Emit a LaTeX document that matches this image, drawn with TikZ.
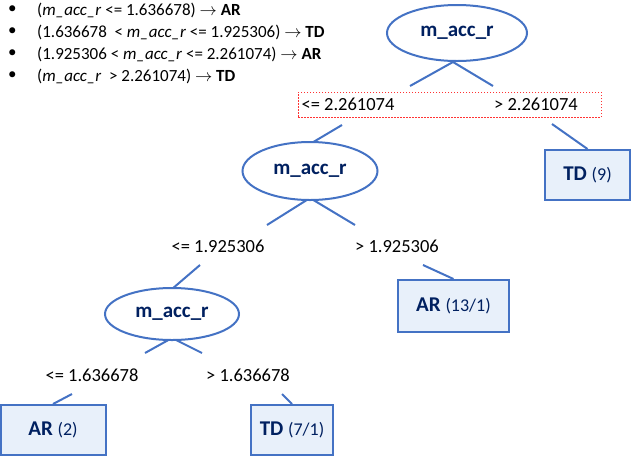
\documentclass[tikz,border=0pt]{standalone}
\usepackage{fontspec}
\setmainfont{Carlito}
\usetikzlibrary{shapes.geometric}
\begin{document}
\begin{tikzpicture}[x=1pt,y=-1pt,
  edge/.style={draw=blueline,line width=2pt},
  ell/.style={ellipse,draw=blueline,line width=2pt,fill=white,font=\fontsize{21}{24}\selectfont\bfseries,text=navytxt,inner sep=0pt},
  leaf/.style={rectangle,draw=blueline,line width=2pt,fill=leaffill,font=\fontsize{21}{24}\selectfont,text=navytxt,inner sep=0pt},
  lab/.style={font=\fontsize{18.5}{20}\selectfont,inner sep=0pt},
  bul/.style={font=\fontsize{17}{19}\selectfont,anchor=west,inner sep=0pt}]
\definecolor{blueline}{RGB}{68,114,196}
\definecolor{navytxt}{RGB}{0,32,96}
\definecolor{leaffill}{RGB}{232,240,250}
\useasboundingbox (0,0) rectangle (640,456);
% bullets
\foreach \yy/\t [count=\i] in {
  10/{(\textit{m\_acc\_r} <= 1.636678) $\rightarrow$ \textbf{AR}},
  32/{(1.636678 \ < \textit{m\_acc\_r} <= 1.925306) $\rightarrow$ \textbf{TD}},
  54/{(1.925306 < \textit{m\_acc\_r} <= 2.261074) $\rightarrow$ \textbf{AR}},
  76/{(\textit{m\_acc\_r} \ > 2.261074) $\rightarrow$ \textbf{TD}}}{
  \node[bul] (b\i) at (8,\yy) {\textbullet};
  \node[bul] (t\i) at (37,\yy) {\t};
}
% split 1
\node[draw=red!80,dash pattern=on 1.5pt off 1.5pt,line width=0.7pt,minimum width=303pt,minimum height=25pt] (rb) at (449.5,104.5) {};
\node[lab] (l1) at (348,104.5) {<= 2.261074};
\node[lab] (r1) at (536,104.5) {> 2.261074};
\coordinate (a1) at (453,62);
\coordinate (a1l) at (410,86);
\coordinate (a1r) at (493,86);
\draw[edge] (a1) -- (a1l) (a1) -- (a1r);
\node[ell,minimum width=140pt,minimum height=56pt] (e1) at (457,33) {m\_acc\_r};
\node[leaf,minimum width=85pt,minimum height=50pt] (td9) at (587.5,175) {\textbf{TD} {\fontsize{18}{20}\selectfont(9)}};
\coordinate (c1) at (552,124);
\draw[edge] (c1) -- (td9.north);
% split 2
\coordinate (c2) at (342,125);
\draw[edge] (c2) -- (310,144);
\node[lab] (l2) at (218,246) {<= 1.925306};
\node[lab] (r2) at (397,246) {> 1.925306};
\coordinate (a2) at (310,198);
\coordinate (a2l) at (267,225);
\coordinate (a2r) at (355,225);
\draw[edge] (a2) -- (a2l) (a2) -- (a2r);
\node[ell,minimum width=135pt,minimum height=58pt] (e2) at (310,171) {m\_acc\_r};
\node[leaf,minimum width=111pt,minimum height=52pt] (ar13) at (453.5,306) {\textbf{AR} {\fontsize{18}{20}\selectfont(13/1)}};
\coordinate (c3) at (423,265);
\draw[edge] (c3) -- (ar13.north);
% split 3
\coordinate (c4) at (200,265);
\coordinate (c4e) at (172,289);
\draw[edge] (c4) -- (c4e);
\node[lab] (l3) at (92,375) {<= 1.636678};
\node[lab] (r3) at (248,375) {> 1.636678};
\coordinate (a3) at (172,338);
\coordinate (a3l) at (145,353);
\coordinate (a3r) at (202,353);
\draw[edge] (a3) -- (a3l) (a3) -- (a3r);
\node[ell,minimum width=134pt,minimum height=52pt] (e3) at (172,314) {m\_acc\_r};
\node[leaf,minimum width=105pt,minimum height=50pt] (ar2) at (53,430) {\textbf{AR} {\fontsize{18}{20}\selectfont(2)}};
\node[leaf,minimum width=82pt,minimum height=50pt] (td7) at (292,430) {\textbf{TD} {\fontsize{18}{20}\selectfont(7/1)}};
\coordinate (c5) at (72,394);
\coordinate (c6) at (282,394);
\draw[edge] (c5) -- (ar2.north) (c6) -- (td7.north);
\end{tikzpicture}
\end{document}
